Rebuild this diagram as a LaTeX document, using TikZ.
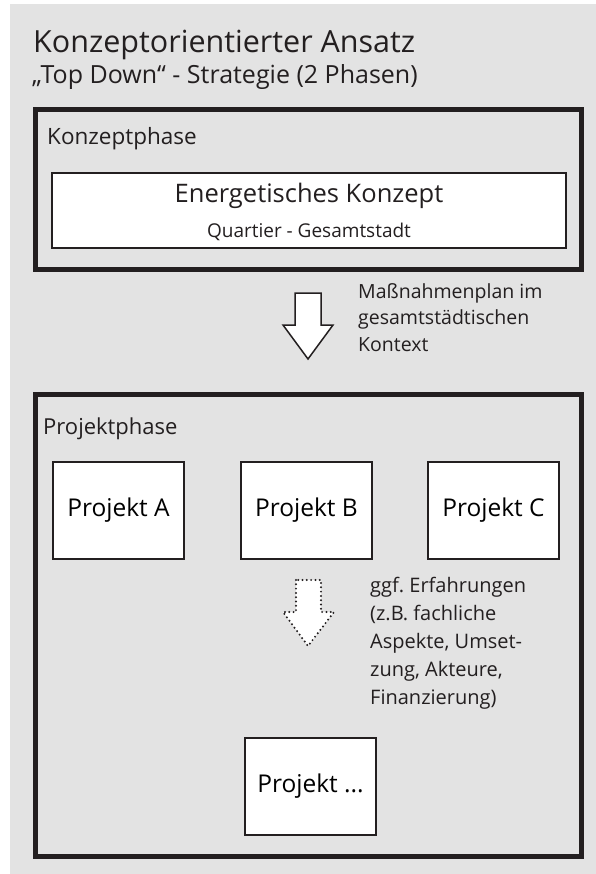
\documentclass[tikz,border=0pt]{standalone}
\usepackage{fontspec}
\setmainfont{Open Sans}
\frenchspacing
\usetikzlibrary{positioning}
\definecolor{bggray}{RGB}{227,227,227}
\definecolor{ink}{RGB}{35,31,32}

\begin{document}
\begin{tikzpicture}[x=1pt,y=-1pt,
  frame/.style={draw=ink,line width=5pt},
  box/.style={draw=ink,fill=white,line width=2pt,inner sep=0pt},
  projbox/.style={box,minimum width=131pt,minimum height=97pt,font=\fontsize{24.5}{30}\selectfont},
  label/.style={anchor=base west,inner sep=0pt,text=ink},
  note/.style={anchor=north west,inner sep=0pt,text=ink,align=left,font=\fontsize{19.5}{26.5}\selectfont},
  blockarrow/.style={draw=ink,fill=white,line width=1.5pt,line join=miter}]

% page and background
\useasboundingbox (0,0) rectangle (596,874);
\fill[bggray] (10,4) rectangle (596,874);

% heading
\node[label,font=\fontsize{30.5}{35}\selectfont] (title) at (33,53) {Konzeptorientierter Ansatz};
\node[label,font=\fontsize{25}{29}\selectfont] (subtitle) at (32,84) {„Top Down“ - Strategie (2 Phasen)};

% Konzeptphase
\draw[frame] (35.5,109.5) rectangle (581.5,269.5);
\node[label,font=\fontsize{22.5}{27}\selectfont] (kphase) at (47,145) {Konzeptphase};
\node[box,minimum width=514pt,minimum height=75pt] (konzept) at (309,210.5) {};
\node[anchor=base,inner sep=0pt,text=ink,font=\fontsize{25.5}{30}\selectfont] (ktitle) at (309,203) {Energetisches Konzept};
\node[anchor=base,inner sep=0pt,text=ink,font=\fontsize{19}{22}\selectfont] (ksub) at (309,238) {Quartier - Gesamtstadt};

% arrow down
\coordinate (a1) at (308,293);
\draw[blockarrow] (a1) ++(-13,0) -- ++(0,32) -- ++(-12,0) -- (308,359) -- (333,325) -- ++(-12,0) -- ++(0,-32) -- cycle;
\node[note] (plan) at (358,283) {Maßnahmenplan im\\gesamtstädtischen\\Kontext};

% Projektphase
\draw[frame] (35.5,394.5) rectangle (581.5,856.5);
\node[label,font=\fontsize{22}{26}\selectfont] (pphase) at (43,434) {Projektphase};
\node[projbox] (pa) at (118.5,510) {Projekt A};
\node[projbox,right=55pt of pa] (pb) {Projekt B};
\node[projbox,right=54pt of pb] (pc) {Projekt C};

% dotted arrow
\coordinate (a2) at (308,580);
\draw[blockarrow,line width=2.2pt,line cap=round,dash pattern=on 0pt off 4.3pt] (a2) ++(-12,0) -- ++(0,32) -- ++(-13,0) -- (308,646) -- (334,612) -- ++(-13,0) -- ++(0,-32) -- cycle;
\node[note,font=\fontsize{20}{28}\selectfont] (erfahr) at (370,577) {ggf. Erfahrungen\\(z.B. fachliche\\Aspekte, Umset-\\zung, Akteure,\\Finanzierung)};

\node[projbox] (pn) at (310.5,786.5) {Projekt ...};
\end{tikzpicture}
\end{document}
